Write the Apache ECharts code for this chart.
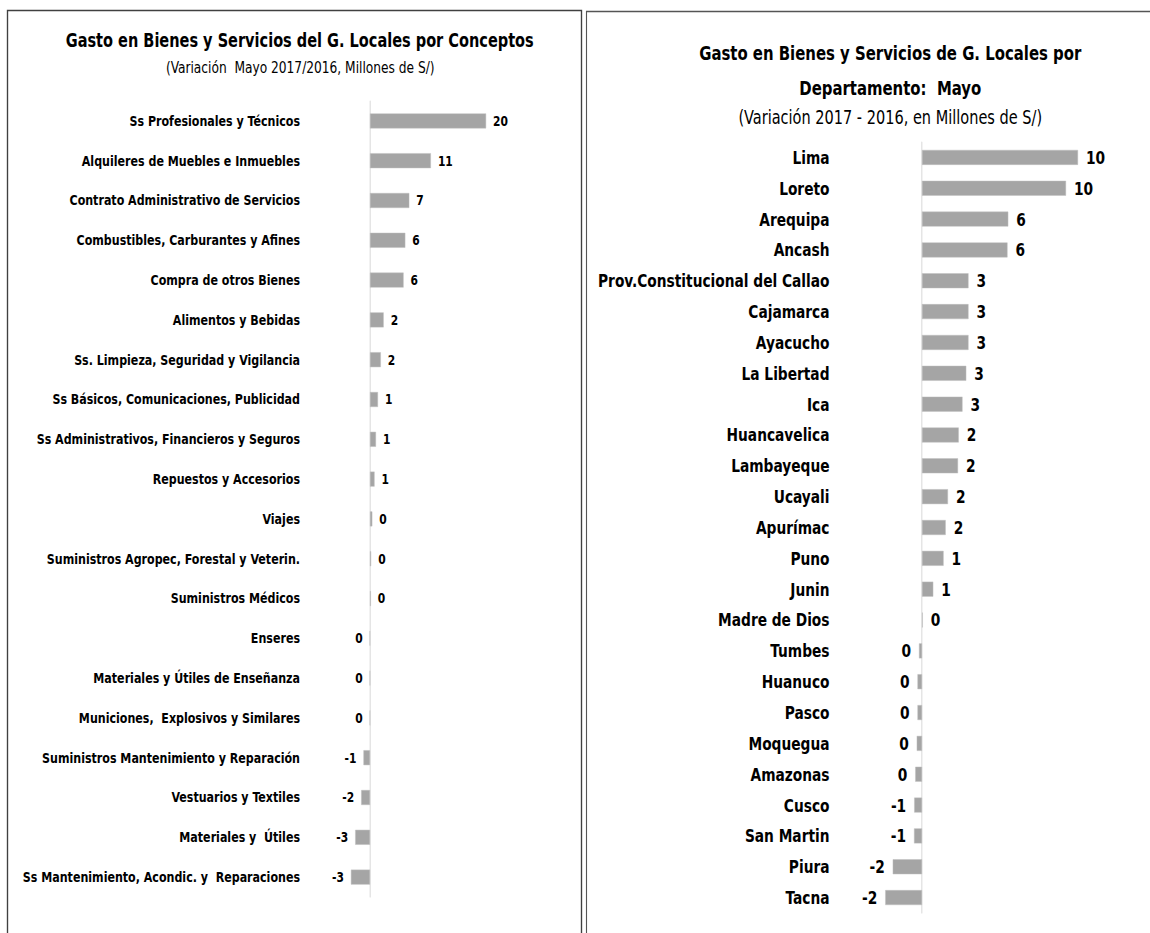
<!DOCTYPE html>
<html>
<head>
<meta charset="utf-8">
<script src="https://cdn.jsdelivr.net/npm/echarts@6/dist/echarts.min.js"></script>
<style>
  html, body { margin: 0; padding: 0; background: #fff; overflow: hidden; }
  #wrap { width: 1150px; height: 933px; overflow: hidden; }
  #main { height: 933px; transform-origin: 0 0; }
</style>
</head>
<body>
<div id="wrap"><div id="main"></div></div>
<script>
// categorías y variaciones (millones de S/)
var conceptos = [
  'Ss Profesionales y Técnicos',
  'Alquileres de Muebles e Inmuebles',
  'Contrato Administrativo de Servicios',
  'Combustibles, Carburantes y Afines',
  'Compra de otros Bienes',
  'Alimentos y Bebidas',
  'Ss. Limpieza, Seguridad y Vigilancia',
  'Ss Básicos, Comunicaciones, Publicidad',
  'Ss Administrativos, Financieros y Seguros',
  'Repuestos y Accesorios',
  'Viajes',
  'Suministros Agropec, Forestal y Veterin.',
  'Suministros Médicos',
  'Enseres',
  'Materiales y Útiles de Enseñanza',
  'Municiones,  Explosivos y Similares',
  'Suministros Mantenimiento y Reparación',
  'Vestuarios y Textiles',
  'Materiales y  Útiles',
  'Ss Mantenimiento, Acondic. y  Reparaciones'
];
var conceptosVar = [20.4, 10.7, 6.9, 6.2, 5.9, 2.4, 1.9, 1.4, 1.05, 0.8, 0.4, 0.2, 0.15,
  -0.05, -0.04, -0.03, -1.15, -1.55, -2.6, -3.35];

var departamentos = [
  'Lima', 'Loreto', 'Arequipa', 'Ancash', 'Prov.Constitucional del Callao',
  'Cajamarca', 'Ayacucho', 'La Libertad', 'Ica', 'Huancavelica',
  'Lambayeque', 'Ucayali', 'Apurímac', 'Puno', 'Junin',
  'Madre de Dios', 'Tumbes', 'Huanuco', 'Pasco', 'Moquegua',
  'Amazonas', 'Cusco', 'San Martin', 'Piura', 'Tacna'
];
var departamentosVar = [10.4, 9.6, 5.75, 5.7, 3.1, 3.1, 3.1, 2.95, 2.7, 2.45,
  2.4, 1.73, 1.58, 1.44, 0.75, 0.05, -0.2, -0.3, -0.3, -0.35,
  -0.45, -0.52, -0.53, -1.95, -2.45];

var FONT = "'Liberation Sans Narrow', 'DejaVu Sans Condensed', 'Liberation Sans', sans-serif";
var GRIS = '#a5a5a5';

// el original tiene la letra estrecha: se dibuja más ancho y se comprime en x
var K = 0.85;
function X(px) { return px / K; }

// redondeo tipo Excel (mitad se aleja del cero)
function fmt(p) {
  var v = p.value;
  var r = Math.sign(v) * Math.round(Math.abs(v));
  return r === 0 ? '0' : String(r);
}

function toData(vals) {
  return vals.map(function (v) {
    return { value: v, label: { position: v < 0 ? 'left' : 'right' } };
  });
}

var el = document.getElementById('main');
el.style.width = X(1150) + 'px';
el.style.transform = 'scaleX(' + K + ')';

// escala de valores: px por unidad y posición del cero
var sL = 5.69, zeroL = 370, minL = -10, maxL = 30;
var sR = 15, zeroR = 922, minR = -5, maxR = 15;
var gridLeftL = zeroL + minL * sL;
var gridLeftR = zeroR + minR * sR;

var myChart = echarts.init(el, null, { renderer: 'svg' });
myChart.setOption({
  animation: false,
  title: [
    { text: 'Gasto en Bienes y Servicios del G. Locales por Conceptos', left: X(295.5), top: 26, textAlign: 'center',
      textStyle: { fontFamily: FONT, fontSize: 19, fontWeight: 'bold', color: '#000' } },
    { text: '(Variación  Mayo 2017/2016, Millones de S/)', left: X(296), top: 54, textAlign: 'center',
      textStyle: { fontFamily: FONT, fontSize: 16, fontWeight: 'normal', color: '#000' } },
    { text: 'Gasto en Bienes y Servicios de G. Locales por', left: X(886), top: 38, textAlign: 'center',
      textStyle: { fontFamily: FONT, fontSize: 19.5, fontWeight: 'bold', color: '#000' } },
    { text: 'Departamento:  Mayo', left: X(886), top: 73, textAlign: 'center',
      textStyle: { fontFamily: FONT, fontSize: 19.5, fontWeight: 'bold', color: '#000' } },
    { text: '(Variación 2017 - 2016, en Millones de S/)', left: X(886), top: 103, textAlign: 'center',
      textStyle: { fontFamily: FONT, fontSize: 19, fontWeight: 'normal', color: '#000' } }
  ],
  graphic: [
    { type: 'rect', shape: { x: X(7.5), y: 10.5, width: X(574), height: 940 },
      style: { fill: 'none', stroke: '#404040', lineWidth: 1.6 }, silent: true },
    { type: 'rect', shape: { x: X(586.5), y: 11.5, width: X(600), height: 940 },
      style: { fill: 'none', stroke: '#555', lineWidth: 1.3 }, silent: true }
  ],
  grid: [
    { left: X(gridLeftL), width: X((maxL - minL) * sL), top: 101, height: 796,
      containLabel: false, outerBoundsMode: 'none' },
    { left: X(gridLeftR), width: X((maxR - minR) * sR), top: 142, height: 771,
      containLabel: false, outerBoundsMode: 'none' }
  ],
  xAxis: [
    { gridIndex: 0, type: 'value', min: minL, max: maxL, show: false, splitLine: { show: false } },
    { gridIndex: 1, type: 'value', min: minR, max: maxR, show: false, splitLine: { show: false } }
  ],
  yAxis: [
    { gridIndex: 0, type: 'category', inverse: true, data: conceptos,
      axisLine: { onZero: true, lineStyle: { color: '#d9d9d9', width: 1.2 } },
      axisTick: { show: false },
      // las etiquetas se alinean desde el borde de la grilla
      axisLabel: { margin: X(gridLeftL - 300), fontFamily: FONT, fontSize: 14.5, fontWeight: 'bold', color: '#000' } },
    { gridIndex: 1, type: 'category', inverse: true, data: departamentos,
      axisLine: { onZero: true, lineStyle: { color: '#d9d9d9', width: 1.2 } },
      axisTick: { show: false },
      axisLabel: { margin: X(gridLeftR - 829.5), fontFamily: FONT, fontSize: 18, fontWeight: 'bold', color: '#000' } }
  ],
  series: [
    { type: 'bar', xAxisIndex: 0, yAxisIndex: 0, barWidth: 15,
      data: toData(conceptosVar),
      itemStyle: { color: GRIS, borderColor: '#bfbfbf', borderWidth: 0.5 },
      label: { show: true, distance: X(7), formatter: fmt, fontFamily: FONT, fontSize: 14, fontWeight: 'bold', color: '#000' } },
    { type: 'bar', xAxisIndex: 1, yAxisIndex: 1, barWidth: 15,
      data: toData(departamentosVar),
      itemStyle: { color: GRIS, borderColor: '#bfbfbf', borderWidth: 0.5 },
      label: { show: true, distance: X(8), formatter: fmt, fontFamily: FONT, fontSize: 18, fontWeight: 'bold', color: '#000' } }
  ]
});
</script>
</body>
</html>
